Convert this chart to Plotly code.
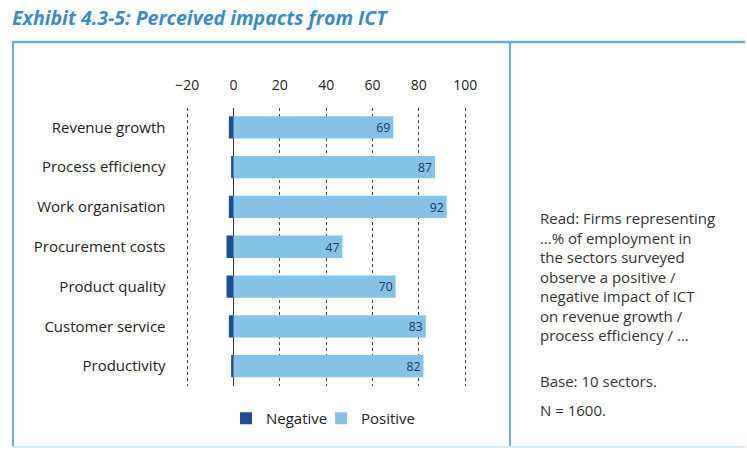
import plotly.graph_objects as go

categories = ["Revenue growth", "Process efficiency", "Work organisation",
              "Procurement costs", "Product quality", "Customer service", "Productivity"]
negative = [-2, -1, -2, -3, -3, -2, -1]
positive = [69, 87, 92, 47, 70, 83, 82]
tick_vals = [-20, 0, 20, 40, 60, 80, 100]
note_lines = ["Read: Firms representing", "…% of employment in", "the sectors surveyed",
              "observe a positive /", "negative impact of ICT", "on revenue growth /",
              "process efficiency / …"]
title_text = "Exhibit 4.3-5: Perceived impacts from ICT"

W, H = 747, 453
FONT = "Open Sans"
dark = "#1d4f91"
light = "#86c2e6"
frame = "#6aaed6"

fig = go.Figure()
fig.add_trace(go.Bar(y=categories, x=negative, orientation="h", name="Negative",
                     marker=dict(color=dark, line=dict(width=0))))
fig.add_trace(go.Bar(y=categories, x=positive, orientation="h", name="Positive",
                     marker=dict(color=light, line=dict(width=0)),
                     text=[str(v) for v in positive], textposition="inside",
                     insidetextanchor="end", textangle=0,
                     textfont=dict(color="#1b3562", size=15, family=FONT)))

def px_x(p):
    return p / W

def px_y(p):
    return 1 - p / H

fig.update_layout(
    width=W, height=H,
    margin=dict(l=0, r=0, t=0, b=0, autoexpand=False),
    paper_bgcolor="white", plot_bgcolor="white",
    barmode="relative", bargap=0.44,
    font=dict(family=FONT, color="#222", size=14),
    showlegend=True,
    legend=dict(orientation="h", x=px_x(226), y=px_y(402), xanchor="left", yanchor="top",
                font=dict(size=15, color="#222"), itemwidth=30, tracegroupgap=0,
                entrywidth=50, entrywidthmode="pixels",
                bgcolor="rgba(0,0,0,0)"),
    xaxis=dict(domain=[px_x(182.5), px_x(469.8)], range=[-22, 102], side="top",
               tickvals=tick_vals, showgrid=True, gridcolor="#444", griddash="dot",
               gridwidth=1, zeroline=True, zerolinecolor="#333", zerolinewidth=1,
               showline=False, ticks="", ticklabelstandoff=14, automargin=False,
               tickfont=dict(size=14, color="#222")),
    yaxis=dict(domain=[px_y(386), px_y(107.5)], autorange="reversed", automargin=False,
               showgrid=False, showline=False, ticks="", ticklabelstandoff=16,
               tickfont=dict(size=15, color="#222")),
)

shapes = [
    dict(type="line", xref="paper", yref="paper", x0=px_x(12), x1=px_x(745), y0=px_y(42), y1=px_y(42),
         line=dict(color=frame, width=2.5)),
    dict(type="line", xref="paper", yref="paper", x0=px_x(13), x1=px_x(13), y0=px_y(42), y1=px_y(447),
         line=dict(color=frame, width=2)),
    dict(type="line", xref="paper", yref="paper", x0=px_x(510), x1=px_x(510), y0=px_y(42), y1=px_y(447),
         line=dict(color=frame, width=2)),
    dict(type="line", xref="paper", yref="paper", x0=px_x(12), x1=px_x(745), y0=px_y(447), y1=px_y(447),
         line=dict(color="#d6eaf5", width=2)),
]
fig.update_layout(shapes=shapes)

NOTE = 15
annotations = [
    dict(text="<b><i>" + title_text + "</i></b>", xref="paper", yref="paper",
         x=px_x(10), y=px_y(18), xanchor="left", yanchor="middle", showarrow=False,
         font=dict(size=19.5, color="#3a8cc4", family=FONT)),
    dict(text="<br>".join(note_lines), xref="paper", yref="paper", x=px_x(538),
         y=px_y(206), xanchor="left", yanchor="top", align="left", showarrow=False,
         font=dict(size=NOTE, color="#333", family=FONT)),
    dict(text="Base: 10 sectors.", xref="paper", yref="paper", x=px_x(538),
         y=px_y(381), xanchor="left", yanchor="middle", showarrow=False,
         font=dict(size=NOTE, color="#333", family=FONT)),
    dict(text="N = 1600.", xref="paper", yref="paper", x=px_x(538),
         y=px_y(410), xanchor="left", yanchor="middle", showarrow=False,
         font=dict(size=NOTE, color="#333", family=FONT)),
]
fig.update_layout(annotations=annotations)

fig.write_html("out.html", config={"displayModeBar": False},
               post_script="document.body.style.margin='0';")
